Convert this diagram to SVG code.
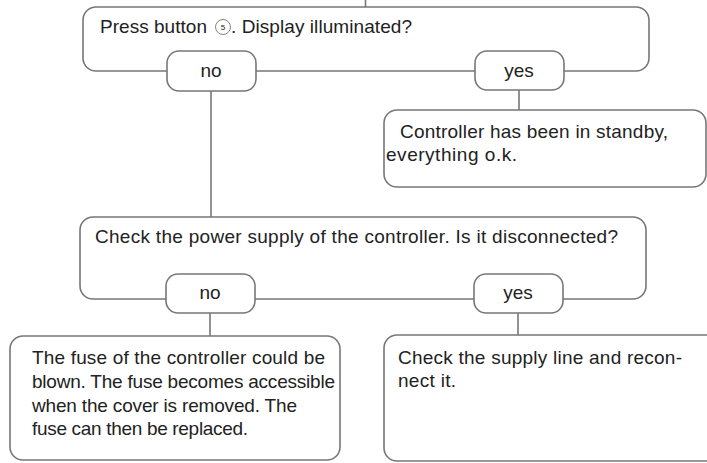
<svg xmlns="http://www.w3.org/2000/svg" width="707" height="463" viewBox="0 0 707 463">
<style>
.box{fill:#fff;stroke:#777;stroke-width:1.6}
.ln{stroke:#777;stroke-width:1.6;fill:none}
text{font-family:"Liberation Sans",Arial,sans-serif;font-size:19px;fill:#222}
.c{text-anchor:middle}
</style>
<rect width="707" height="463" fill="#fff"/>
<g id="connectors">
<line class="ln" x1="365.5" y1="0" x2="365.5" y2="7"/>
<line class="ln" x1="211" y1="91" x2="211" y2="217"/>
<line class="ln" x1="519" y1="90" x2="519" y2="110"/>
<line class="ln" x1="210" y1="313" x2="210" y2="336"/>
<line class="ln" x1="518" y1="313" x2="518" y2="335"/>
</g>
<g id="q1">
<rect class="box" x="83" y="7" width="566" height="64" rx="13"/>
<text x="100" y="32.5" textLength="107">Press button</text>
<circle cx="223" cy="27" r="7.5" fill="#fff" stroke="#777" stroke-width="0.9"/>
<text x="223" y="30" class="c" style="font-size:8px">5</text>
<text x="231" y="32.5" textLength="181">. Display illuminated?</text>
</g>
<g id="q1-no">
<rect class="box" x="167" y="51" width="89" height="40" rx="12"/>
<text x="211" y="76.5" class="c">no</text>
</g>
<g id="q1-yes">
<rect class="box" x="475" y="51" width="89" height="39" rx="12"/>
<text x="519" y="76.5" class="c">yes</text>
</g>
<g id="standby">
<rect class="box" x="384" y="110" width="322" height="77" rx="13"/>
<text x="400" y="137.5" textLength="268">Controller has been in standby,</text>
<text x="386" y="160.5" textLength="131">everything o.k.</text>
</g>
<g id="q2">
<rect class="box" x="80" y="217" width="566" height="82" rx="13"/>
<text x="95" y="243" textLength="523">Check the power supply of the controller. Is it disconnected?</text>
</g>
<g id="q2-no">
<rect class="box" x="166" y="274" width="89" height="39" rx="12"/>
<text x="210" y="299" class="c">no</text>
</g>
<g id="q2-yes">
<rect class="box" x="474" y="274" width="89" height="39" rx="12"/>
<text x="518" y="299" class="c">yes</text>
</g>
<g id="fuse">
<rect class="box" x="10" y="336" width="330" height="124" rx="13"/>
<text x="32" y="364" textLength="293">The fuse of the controller could be</text>
<text x="32" y="387.5" textLength="303">blown. The fuse becomes accessible</text>
<text x="32" y="411.5" textLength="265">when the cover is removed. The</text>
<text x="32" y="435" textLength="216">fuse can then be replaced.</text>
</g>
<g id="supply">
<rect class="box" x="384" y="335" width="336" height="126" rx="13"/>
<text x="398" y="364" textLength="284">Check the supply line and recon-</text>
<text x="398" y="387" textLength="58">nect it.</text>
</g>
</svg>
